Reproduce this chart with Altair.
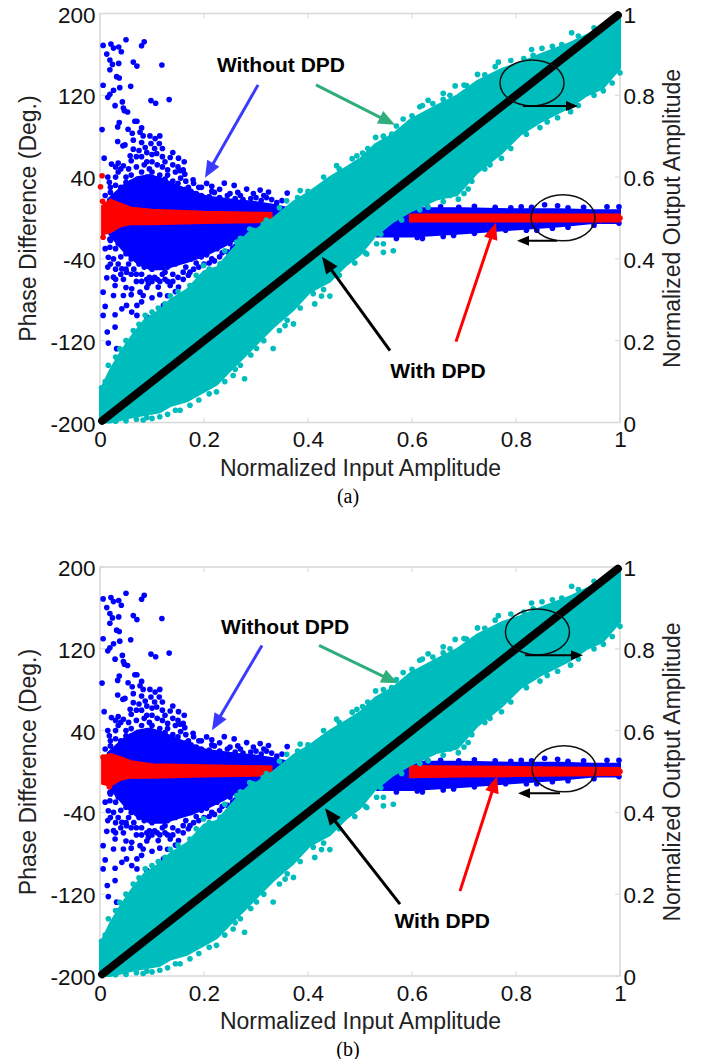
import altair as alt
import pandas as pd

# ---------- ticks ----------
TICKS_X = [0, 0.2, 0.4, 0.6, 0.8, 1]
TICKS_LEFT = [-200, -120, -40, 40, 120, 200]
TICKS_RIGHT = [0, 0.2, 0.4, 0.6, 0.8, 1]

# ---------- dense bands: x, upper, lower ----------
CYAN_X = [0, .02, .04, .06, .085, .115, .135, .167, .2, .225, .256, .285, .301, .333, .372, .404,
          .442, .475, .5, .529, .563, .596, .647, .687, .725, .773, .808, .846, .904, .937, .967, 1]
CYAN_UP = [.078, .13, .173, .21, .25, .275, .3, .325, .37, .38, .425, .463, .473, .5, .54, .565,
           .6, .625, .645, .68, .705, .74, .775, .8, .835, .865, .88, .9, .928, .948, .97, .998]
CYAN_LOW = [0, 0, .006, .012, .018, .025, .04, .052, .075, .093, .134, .17, .191, .232, .275, .319,
            .344, .386, .41, .455, .49, .515, .545, .556, .61, .659, .703, .734, .771, .8, .817, .866]

BLUE_L_X = [.015, .045, .071, .096, .122, .147, .173, .205, .237, .269, .301, .333, .359]
BLUE_L_UP = [18, 32, 40, 42, 38, 32, 27, 21, 19, 17, 15.5, 13, 10]
BLUE_L_LOW = [-14, -32, -44, -50, -50, -46, -42, -36, -28, -19, -10, -2, 8]

BLUE_R_X = [.533, .6, .7, .79, .885, .948, 1]
BLUE_R_UP = [9, 9.5, 9.5, 8.5, 8.5, 7.5, 7.5]
BLUE_R_LOW = [-18, -18, -15, -11.5, -8, -5, -5]

RED_L_X = [.004, .02, .04, .06, .1, .2, .33]
RED_L_UP_A = [12, 18, 14, 10, 8, 6, 5]
RED_L_LOW_A = [-16, -14, -8, -6, -6, -5, -4]
RED_L_UP_B = [15, 17, 14, 10, 7, 6, 5]
RED_L_LOW_B = [-12, -14, -8, -6, -6, -5, -4]

RED_R_X = [.596, .7, .8, .9, 1]
RED_R_UP_A = [3.5, 3.5, 3.5, 3.5, 3.5]
RED_R_LOW_A = [-3.5, -3.5, -3.5, -3.5, -3.5]
RED_R_UP_B = [5.5, 5, 4.5, 4, 3.5]
RED_R_LOW_B = [-5.5, -5, -4.5, -4, -3.5]

BLACK_X = [0.004, 0.996]
BLACK_Y = [0.004, 0.996]

# ---------- separated points ----------
BLUE_DOTS = [
    (.006,168.8),(.021,170.1),(.026,166.2),(.036,167.2),(.041,162.6),(.013,160.3),(.019,154.5),(.024,150.2),
    (.019,145),(.036,151.2),(.05,174.3),(.08,168.5),(.085,172.4),(.064,152.5),(.071,148.6),(.119,149.6),
    (.032,138.2),(.037,136.9),(.006,129.8),(.038,127.5),(.059,128.8),(.026,124.9),(.019,121),(.015,118),
    (.043,113.5),(.029,109.9),(.045,107.6),(.047,105),(.053,103.7),(.098,114.8),(.107,112.2),(.133,115.8),
    (.067,94.6),(.071,94.6),(.037,93.3),(.034,89.1),(.004,86.5),(.054,86.8),(.062,82.9),(.08,88.1),(.077,83.9),
    (.083,80.3),(.096,80.3),(.106,77.7),(.115,80.3),(.034,74.8),(.044,70.6),(.048,71.5),(.064,76.1),(.08,73.8),
    (.087,68.9),(.098,72.9),(.114,72.9),(.064,67.3),(.058,60.8),(.109,63.1),(.008,58.5),(.022,52.7),(.035,53.7),
    (.045,51.1),(.14,64.1),(.135,59.2),(.151,58.5),(.162,55),(.154,46.2),(.163,42.9),(.179,37.4),(.205,33.8),
    (.239,34.1),(.258,31.9),(.282,28.3),(.308,27.3),(.324,25.4),(.36,24.4),
    (.03,40),(.05,40),(.07,50),(.09,55),(.1,45),(.12,50),(.13,42),(.06,35),(.02,30),(.04,30),(.08,60),(.1,62),
    (.12,60),(.145,45),(.17,30),(.19,30),(.22,25),(.25,24),(.27,22),(.3,20),(.33,18),(.015,40),
    (.02,25),(.03,32),(.04,28),(.05,35),(.06,42),(.065,30),(.075,38),(.08,45),(.09,40),(.095,48),(.105,36),(.11,52),
    (.115,42),(.125,38),(.13,47),(.14,36),(.15,34),(.155,39),(.165,28),(.175,26),(.185,24),(.195,22),(.21,21),(.215,26),
    (.23,20),(.245,22),(.26,19),(.275,18),(.29,19),(.31,17),(.32,20),(.34,15),(.35,17),(.025,20),(.035,45),(.055,48),
    (.085,52),(.1,55),(.01,22),(.018,35),
    (.03,50),(.04,48),(.06,56),(.07,60),(.075,66),(.09,64),(.105,68),(.12,68),(.125,55),(.14,52),(.15,50),(.16,47),
    (.165,36),(.18,34),(.195,30),(.215,31),(.23,28),(.265,25),(.295,24),(.315,22),
    (.006,-72.5),(.013,-58.5),(.01,-86.5),(.006,-95.3),(.029,-66),(.026,-75.8),(.029,-94.6),(.014,-111.5),
    (.029,-106.7),(.016,-122.3),(.035,-136.6),(.032,-127.8),(.042,-88.8),(.051,-85.5),(.061,-92),(.071,-95.3),
    (.083,-75.8),(.09,-96.9),(.093,-116.4),(.103,-106.7),(.112,-67.6),(.122,-85.5),(.135,-92),(.151,-83.9),
    (.045,-75.8),(.061,-69.3),(.077,-72.5),(.093,-64.4),(.019,-28.6),(.026,-40),(.016,-38.4),(.042,-49.8),
    (.051,-53),(.026,-57.9),(.071,-85.5),(.135,-66),(.151,-67.6),(.173,-53),(.16,-53),(.125,-53),(.019,-20.5),
    (.02,-22),(.03,-30),(.035,-25),(.04,-38),(.05,-35),(.055,-45),(.06,-40),(.065,-50),(.075,-45),(.08,-55),(.085,-48),
    (.095,-58),(.1,-50),(.105,-47),(.11,-60),(.115,-45),(.12,-55),(.13,-48),(.14,-55),(.145,-45),(.155,-42),(.165,-48),
    (.175,-40),(.185,-44),(.195,-38),(.205,-36),(.215,-40),(.225,-30),(.235,-34),(.25,-25),(.26,-28),(.27,-18),(.28,-22),
    (.29,-12),(.01,-30),(.015,-48),(.035,-45),(.045,-60),(.07,-62),(.09,-68),(.1,-62),(.13,-62),(.02,-12),
    (.02,-45),(.03,-50),(.04,-55),(.05,-50),(.06,-55),(.07,-55),(.08,-62),(.09,-60),(.105,-58),(.115,-62),(.125,-60),
    (.14,-62),(.15,-58),(.16,-60),(.17,-56),(.18,-50),(.19,-48),(.2,-45),(.21,-44),(.22,-42),(.23,-38),(.245,-33),
    (.255,-30),(.03,-60),(.05,-68),(.06,-75),(.08,-82),(.1,-78),(.115,-75),(.13,-76),(.145,-72),
    (.655,11),(.72,11.5),(.76,10.5),(.81,11),(.855,13),(.88,12),(.93,10.5),(.975,11),(.998,11),(.998,-5),
    (.57,-20),(.62,-20),(.66,-18),(.72,-15),(.78,-12),(.84,-12),(.9,-9),(.63,11),(.69,10.5),(.79,10),(.83,10.5),(.9,10),
    (.95,-7),(.61,-19),(.68,-17),(.75,-13),(.82,-12),(.87,-10),
]
RED_DOTS_A = [(.004,41.3),(.001,30.6),(.005,16.3),(.006,-18.8)]
RED_DOTS_B = [(.006,14),(.012,-8),(.018,-15)]
CYAN_DOTS = [
    (.907,.953),(.83,.912),(.833,.898),(.888,.924),(.904,.922),(.766,.881),(.726,.851),(.683,.823),(.705,.824),
    (.631,.788),(.615,.772),(.673,.8),(.696,.786),(.583,.742),(.53,.697),(.58,.707),(.561,.705),(.505,.659),(.978,.965),
    (1,.855),(.968,.811),(.905,.76),(.846,.721),(.772,.646),(.74,.62),(.708,.571),(.689,.546),(.673,.555),(.676,.579),
    (.657,.587),(.631,.526),(.647,.555),(.545,.437),(.564,.42),(.545,.416),(.532,.437),(.513,.412),
    (.442,.309),(.426,.309),(.413,.29),(.397,.327),(.372,.241),(.356,.237),(.333,.181),(.301,.181),(.278,.107),
    (.256,.115),(.26,.13),(.224,.075),(.173,.042),(.154,.03),(.115,.014),(.1,.01),(.083,.006),
    (.003,.085),(.016,.14),(.038,.18),(.064,.225),(.087,.262),(.112,.28),(.135,.31),(.173,.335),(.199,.384),
    (.231,.388),(.263,.441),(.288,.473),(.314,.485),(.385,.567),(.359,.542),(.417,.567),(.455,.628),(.494,.652),
    (.01,.1),(.03,.16),(.05,.2),(.075,.24),(.1,.27),(.125,.29),(.15,.32),(.185,.36),(.21,.375),(.24,.42),(.27,.45),
    (.295,.47),(.32,.495),(.345,.525),(.38,.55),(.4,.565),(.43,.6),(.46,.62),(.485,.645),(.515,.67),(.545,.7),(.57,.725),
    (.6,.75),(.62,.775),(.64,.78),(.66,.79),(.7,.825),(.74,.85),(.76,.87),(.79,.885),(.815,.89),(.85,.915),(.87,.92),
    (.92,.945),(.95,.965),(.99,.985),(.66,.805),
    (.03,.003),(.05,.004),(.07,.008),(.09,.012),(.13,.02),(.145,.03),(.19,.055),(.21,.07),(.24,.1),(.27,.14),(.29,.165),
    (.315,.2),(.345,.225),(.36,.25),(.385,.28),(.41,.315),(.43,.325),(.46,.36),(.49,.39),(.51,.415),(.54,.46),(.58,.495),
    (.615,.52),(.66,.54),(.7,.56),(.715,.59),(.75,.63),(.79,.67),(.82,.705),(.86,.735),(.88,.745),(.92,.775),(.95,.8),(.985,.83),
]

# ---------- annotations: text, x, degrees ----------
LABELS_A = [("Without DPD", .348, 148.6), ("With DPD", .65, -150.3)]
LABELS_B = [("Without DPD", .356, 140.8), ("With DPD", .658, -147.3)]
# tail x, tail deg, tip x, tip deg, colour, stroke, head angle, head kind
ARROWS_A = [
    (.304, 130.2, .2019, 39.3, "#3a3aff", 3, 209.7, "big"),
    (.4154, 130.2, .5673, 91.1, "#2fae7c", 3, 116.9, "big"),
    (.5577, -129.7, .4269, -37.9, "#000000", 3, 324.1, "big"),
    (.6846, -120.9, .7615, -4.6, "#ff0000", 3, 18.6, "big"),
    (.8135, 109.6, .9192, 109.6, "#000000", 2, 90, "small"),
    (.8788, -22.2, .8019, -22.2, "#000000", 2, 270, "small"),
]
ARROWS_B = [
    (.3115, 123.3, .2154, 40.3, "#3a3aff", 3, 210.5, "big"),
    (.4212, 123.3, .5731, 86.2, "#2fae7c", 3, 115.7, "big"),
    (.5769, -129.7, .4327, -35.9, "#000000", 3, 322, "big"),
    (.6923, -117, .7635, -4.6, "#ff0000", 3, 17.8, "big"),
    (.8173, 113.6, .9288, 113.6, "#000000", 2, 90, "small"),
    (.8846, -21.2, .8038, -21.2, "#000000", 2, 270, "small"),
]
ELLIPSES_A = [(.8308, 132.1), (.8904, .2)]
ELLIPSES_B = [(.8413, 136.5), (.8923, 2.7)]

FONT = "Liberation Sans"
GRAY = "#d8d8d8"
W, H = 520, 409
HEAD = "M0,0L-1,2.4L1,2.4Z"
ELLIPSE = "M-1,0A1,.72,0,1,1,1,0A1,.72,0,1,1,-1,0Z"

XS = alt.Scale(domain=[0, 1], nice=False)
LS = alt.Scale(domain=[-200, 200], nice=False)
RS = alt.Scale(domain=[0, 1], nice=False)
LABEL = dict(labelFont=FONT, labelFontSize=22.5, labelColor="#111", grid=False, ticks=False, domain=False)
TITLE = dict(titleFont=FONT, titleFontSize=23, titleFontWeight="normal", titleColor="#222")
AX_X = alt.Axis(values=TICKS_X, format="~g", title="Normalized Input Amplitude", labelPadding=6, labelFlush=False,
                titlePadding=6, **LABEL, **TITLE)
AX_L = alt.Axis(values=TICKS_LEFT, labelExpr="'' + datum.value", title="Phase Difference (Deg.)", labelPadding=5,
                labelOffset=1.5, titlePadding=9, **LABEL, **TITLE)
AX_R = alt.Axis(values=TICKS_RIGHT, format="~g", title="Normalized Output Amplitude", orient="right", labelPadding=3,
                labelOffset=1.5, titleAngle=270, titlePadding=30, **LABEL, **TITLE)


def X(f="x"):
    return alt.X(f"{f}:Q", scale=XS, axis=AX_X)


def YL(f="y", axis=None):
    return alt.Y(f"{f}:Q", scale=LS, axis=axis)


def YR(f="y", axis=None):
    return alt.Y(f"{f}:Q", scale=RS, axis=axis)


def band(xs, up, low, color, yfn):
    d = pd.DataFrame({"x": xs, "y": up, "y2": low})
    return alt.Chart(d).mark_area(color=color, opacity=1, stroke=color, strokeWidth=2).encode(
        x=X(), y=yfn(), y2="y2:Q")


def dots(pairs, color, yfn):
    d = pd.DataFrame(pairs, columns=["x", "y"])
    return alt.Chart(d).mark_circle(color=color, opacity=1, size=32).encode(x=X(), y=yfn())


def panel(caption, red_l_up, red_l_low, red_r_up, red_r_low, red_dots, labels, arrows, ellipses):
    layers = []
    tx = pd.DataFrame({"x": TICKS_X})
    tl = pd.DataFrame({"y": TICKS_LEFT})
    tick = alt.Chart(tx).mark_rule(color=GRAY, strokeWidth=1)
    layers.append(tick.encode(x=X(), y=alt.value(H), y2=alt.value(H - 5)))
    layers.append(tick.encode(x=X(), y=alt.value(0), y2=alt.value(5)))
    tick2 = alt.Chart(tl).mark_rule(color=GRAY, strokeWidth=1)
    layers.append(tick2.encode(y=YL(axis=AX_L), x=alt.value(0), x2=alt.value(5)))
    layers.append(tick2.encode(y=YL(), x=alt.value(W), x2=alt.value(W - 5)))
    # blue
    layers.append(band(BLUE_L_X, BLUE_L_UP, BLUE_L_LOW, "#0000ff", YL))
    layers.append(band(BLUE_R_X, BLUE_R_UP, BLUE_R_LOW, "#0000ff", YL))
    layers.append(dots(BLUE_DOTS, "#0000ff", YL))
    # red
    layers.append(band(RED_L_X, red_l_up, red_l_low, "#ff0000", YL))
    layers.append(band(RED_R_X, red_r_up, red_r_low, "#ff0000", YL))
    layers.append(dots(red_dots + [(1, 0)], "#ff0000", YL))
    # cyan on right scale
    layers.append(band(CYAN_X, CYAN_UP, CYAN_LOW, "#00bdbd", YR))
    layers.append(dots(CYAN_DOTS, "#00bdbd", YR))
    # right axis carrier + black line
    black = pd.DataFrame({"x": BLACK_X, "y": BLACK_Y})
    layers.append(alt.Chart(black).mark_line(color="#000", strokeWidth=8, strokeCap="round").encode(
        x=X(), y=YR(axis=AX_R)))
    # ellipses
    el = pd.DataFrame(ellipses, columns=["x", "y"])
    layers.append(alt.Chart(el).mark_point(shape=ELLIPSE, size=4096, filled=False, color="#111", strokeWidth=1.5,
                                           opacity=1).encode(x=X(), y=YL()))
    # arrows
    rows = []
    for tx0, ty0, tx1, ty1, col, sw, ang, kind in arrows:
        rows.append(dict(x=tx0, y=ty0, x2=tx1 + (tx0 - tx1) * .12, y2=ty1 + (ty0 - ty1) * .12, c=col, s=sw, a=ang,
                         hx=tx1, hy=ty1, k=kind))
    ar = pd.DataFrame(rows)
    cscale = alt.Scale(domain=["#3a3aff", "#2fae7c", "#000000", "#ff0000"],
                       range=["#3a3aff", "#2fae7c", "#000000", "#ff0000"])
    layers.append(alt.Chart(ar).mark_rule().encode(
        x=X(), y=YL(), x2="x2:Q", y2="y2:Q",
        color=alt.Color("c:N", scale=cscale, legend=None),
        strokeWidth=alt.StrokeWidth("s:Q", scale=None)))
    layers.append(alt.Chart(ar[ar.k == "big"]).mark_point(shape=HEAD, size=196, filled=True, opacity=1).encode(
        x=X("hx"), y=YL("hy"), color=alt.Color("c:N", scale=cscale, legend=None), angle=alt.Angle("a:Q", scale=None)))
    layers.append(alt.Chart(ar[ar.k == "small"]).mark_point(shape=HEAD, size=100, filled=True, opacity=1).encode(
        x=X("hx"), y=YL("hy"), color=alt.Color("c:N", scale=cscale, legend=None), angle=alt.Angle("a:Q", scale=None)))
    # labels
    lb = pd.DataFrame(labels, columns=["t", "x", "y"])
    layers.append(alt.Chart(lb).mark_text(font=FONT, fontSize=21, fontWeight="bold", color="#000").encode(
        x=X(), y=YL(), text="t:N"))
    # caption
    layers.append(alt.Chart(pd.DataFrame({"t": [caption]})).mark_text(
        font="Liberation Serif", fontSize=20, color="#000").encode(
        x=alt.value(248), y=alt.value(483), text="t:N"))
    return alt.layer(*layers).resolve_scale(y="independent").properties(width=W, height=H)


a = panel("(a)", RED_L_UP_A, RED_L_LOW_A, RED_R_UP_A, RED_R_LOW_A, RED_DOTS_A, LABELS_A, ARROWS_A, ELLIPSES_A)
b = panel("(b)", RED_L_UP_B, RED_L_LOW_B, RED_R_UP_B, RED_R_LOW_B, RED_DOTS_B, LABELS_B, ARROWS_B, ELLIPSES_B)

chart = alt.vconcat(a, b, spacing=43.5).properties(
    padding={"left": 9, "top": -10.5, "right": 0, "bottom": 0}
).configure_view(stroke=GRAY, strokeWidth=1.5)

chart.save("out.html", embed_options={"renderer": "svg", "actions": False})
